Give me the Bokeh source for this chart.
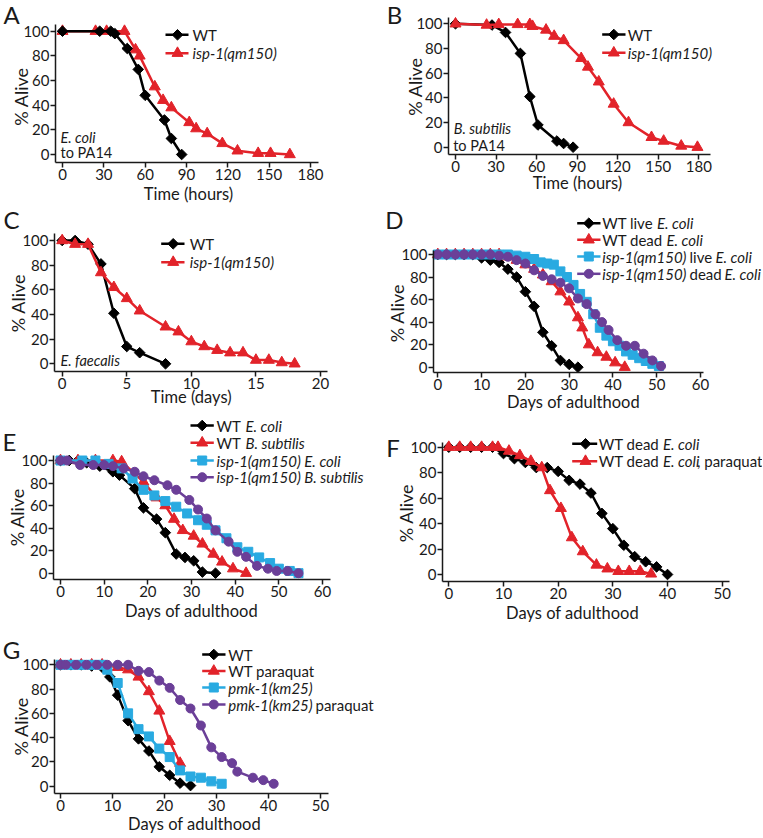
import math
from bokeh.plotting import figure
from bokeh.models import Range1d, FixedTicker, Label
from bokeh.layouts import row, column
from bokeh.embed import file_html
from bokeh.resources import INLINE

FONT = "Lato"
INK = "#1a1a1a"
BLACK = "#000000"
RED = "#E2232A"
CYAN = "#29AAE1"
PURPLE = "#6B3F98"

# ---------------- data ----------------
A_hours_wt = [0, 27, 35, 38, 47, 55, 60, 74, 79, 86.5]
A_wt = [100, 100, 100, 98, 86, 69, 48, 28, 13, 0]
A_hours_isp = [0, 24, 32, 45, 53, 56, 67, 73, 79, 92, 97, 105, 116, 127, 142, 151, 165]
A_isp = [100, 100, 100, 100, 85, 80, 55, 44, 38, 26, 21, 17, 9, 3, 1, 1, 0]

B_hours_wt = [0, 27, 37, 48, 55, 61, 75, 80, 87]
B_wt = [100, 99, 93, 76, 41, 18, 5, 3, 0]
B_hours_isp = [0, 23, 32, 46, 55, 57, 67, 73, 80, 93, 98, 106, 117, 128, 145, 154, 167, 179]
B_isp = [100, 99, 99.5, 99.5, 99.5, 98, 95, 90, 86.5, 72, 65, 53, 35, 20, 8, 5, 1, 0]

C_days_wt = [0, 1, 2, 3, 4, 5, 6, 8]
C_wt = [100, 100, 97, 81, 41, 14, 9, 0]
C_days_isp = [0, 1, 2, 3, 4, 5, 6, 8, 9, 10, 11, 12, 13, 14, 15, 16, 17, 18]
C_isp = [100, 97, 97, 74, 62, 53, 43, 30, 26, 18, 14, 11, 9, 9, 3, 3, 1, 0]

D_days_wt_live = [0, 2, 4, 6, 8, 10, 12, 14, 16, 18, 20, 22, 24, 26, 28, 30, 32]
D_wt_live = [100, 100, 100, 100, 100, 97, 95, 93, 87, 80, 67, 54, 31, 19, 6, 2.5, 0]
D_days_wt_dead = [0, 2, 4, 6, 8, 10, 12, 14, 16, 18, 20, 22, 24, 26, 28, 30, 32, 33, 34.5, 36.5, 38.5, 40.5, 42.7]
D_wt_dead = [100, 100, 100, 100, 100, 100, 100, 100, 98, 95, 91, 87, 82, 76, 67, 58, 44, 35, 20, 13, 9, 4, 0]
D_days_isp_live = [0, 2, 4, 6, 8, 10, 12, 14, 16, 18, 20, 22, 23.5, 25, 26.5, 28, 29.5, 31, 32.5, 34,
                   35.5, 37, 38.5, 40, 41.5, 43, 44.5, 46, 47.5, 49, 50.5]
D_isp_live = [100, 100, 100, 100, 100, 100, 100, 100, 100, 99, 98, 96, 93, 92, 91, 85, 80, 73, 65, 58,
              47, 35, 28, 23, 19, 14, 11, 8, 5.5, 3, 1]
D_days_isp_dead = [0, 2, 4, 6, 8, 10, 12, 14, 16, 18, 20, 22, 24, 26, 28, 30, 32, 34, 36, 37.5, 39, 41, 43, 45, 47, 49, 51]
D_isp_dead = [100, 100, 100, 100, 100, 100, 100, 99, 98, 95, 92, 86, 81, 78, 75, 70, 61, 56, 47, 40, 33, 24, 19, 19, 12, 6, 1]

E_days_wt_ecoli = [0, 2, 4, 6, 9, 12, 13.5, 17, 19, 22, 24, 26.5, 28.5, 30.5, 32.5, 35.5]
E_wt_ecoli = [100, 100, 100, 98, 95, 90, 87, 75, 58, 48, 36, 17, 14, 11, 1, 0]
E_days_wt_bsub = [0, 4, 8, 12, 14, 19, 22, 24, 26, 28, 30.5, 32.5, 35, 37, 39.5, 42.5]
E_wt_bsub = [100, 100, 100, 100, 99, 81, 67, 60, 48, 38, 33, 26, 17, 10, 4, 0]
E_days_isp_ecoli = [0, 5, 8, 11, 14, 16.5, 19, 21.5, 24, 26.5, 29, 31.5, 33.5, 35.5, 38, 40.5, 43, 45.5, 48, 50, 52.5, 54.5]
E_isp_ecoli = [100, 100, 100, 97, 93, 84, 74, 69, 64, 59, 53, 47, 43, 38, 31, 23, 19, 14, 9, 4, 2, 0]
E_days_isp_bsub = [0, 1.5, 4.5, 7.5, 10, 12, 14.5, 17, 19, 21.5, 24.5, 26.5, 29.5, 31.5, 33.5, 35.5, 38.5,
                   40.5, 42.5, 45, 47.5, 49.5, 52, 54.5]
E_isp_bsub = [100, 100, 96, 96, 96, 95, 93, 90, 86, 82.5, 78, 74, 65, 56.5, 48.5, 38, 28, 19, 14.5, 6.5, 4, 2, 2, 0]

F_days_wt = [0, 2, 4, 6, 8, 10, 12, 14, 16, 18, 20, 22, 24, 26, 28, 30, 32, 34, 36, 38, 40]
F_wt = [100, 100, 100, 100, 100, 95, 91, 88, 84, 84, 81, 74, 71, 64, 48, 36, 23, 14, 10, 6, 0]
F_days_pq = [0, 2, 4, 6, 8, 9, 11, 13, 15, 17, 18.5, 20.5, 22.5, 24.5, 27, 29, 31, 33, 35, 37]
F_pq = [100, 100, 100, 100, 100, 100, 97, 93.5, 89, 84, 66, 52, 29, 18, 7.5, 4.5, 2.5, 2.5, 2.5, 0.5]

G_days_wt = [0, 2, 4, 6, 8, 9.5, 11, 13, 15, 17, 19, 21, 23, 25]
G_wt = [100, 100, 100, 99, 98, 90, 75, 54, 39, 29, 16, 9, 2.5, 0.5]
G_days_wt_pq = [0, 2, 4, 6, 8, 11, 13, 15, 17, 19, 21, 23]
G_wt_pq = [100, 100, 100, 100, 100, 98, 96, 90, 78, 62, 37, 19]
G_days_pmk = [0, 2, 4, 6, 8, 9, 11, 13, 15, 17, 19, 21, 23, 25, 27, 29, 31]
G_pmk = [100, 100, 100, 100, 100, 96, 85, 60, 47, 41, 31, 24, 13, 8, 7, 4, 2]
G_days_pmk_pq = [0, 1, 3, 5, 7, 9, 11, 13, 15, 17, 19, 21, 23, 25, 27, 29, 31, 33, 34, 37, 39, 41]
G_pmk_pq = [100, 100, 100, 100, 100, 100, 100, 100, 95, 94, 87, 81, 71, 64, 50, 32, 24, 19, 12, 7, 5, 2]

Y_TICKS = [0, 20, 40, 60, 80, 100]
HOUR_TICKS = [0, 30, 60, 90, 120, 150, 180]
C_TICKS = [0, 5, 10, 15, 20]
ADULT60_TICKS = [0, 10, 20, 30, 40, 50, 60]
ADULT50_TICKS = [0, 10, 20, 30, 40, 50]

STYLE = {
    "wt": (BLACK, "square", 7.5, math.pi / 4),
    "tri": (RED, "triangle", 11, 0.0),
    "sq": (CYAN, "square", 9, 0.0),
    "circ": (PURPLE, "circle", 9, 0.0),
}


class Panel:
    """One survival panel. The frame fills the whole figure; pixel arguments are page pixels."""

    def __init__(self, ox, oy, w, h, axis_x, axis_y, xcal, ycal, x_end, y_top, xticks):
        px0, v0, px1, v1 = xcal
        py0, u0, py1, u1 = ycal
        self.ax = (v1 - v0) / (px1 - px0)
        self.ay = (u1 - u0) / (py1 - py0)
        self.xc = (px0, v0)
        self.yc = (py0, u0)
        p = figure(width=w, height=h,
                   x_range=Range1d(self.X(ox), self.X(ox + w)),
                   y_range=Range1d(self.Y(oy + h), self.Y(oy)),
                   output_backend="svg", toolbar_location=None,
                   min_border=0, min_border_left=0, min_border_right=0,
                   min_border_top=0, min_border_bottom=0)
        p.outline_line_color = None
        p.xgrid.visible = False
        p.ygrid.visible = False
        p.background_fill_color = "white"
        p.border_fill_color = "white"
        p.xaxis.ticker = FixedTicker(ticks=xticks)
        p.yaxis.ticker = FixedTicker(ticks=Y_TICKS)
        p.xaxis.fixed_location = self.Y(axis_y)
        p.yaxis.fixed_location = self.X(axis_x)
        p.xaxis.bounds = (self.X(axis_x), self.X(x_end))
        p.yaxis.bounds = (self.Y(axis_y), self.Y(y_top))
        for a in (p.xaxis[0], p.yaxis[0]):
            a.axis_line_width = 1.5
            a.axis_line_color = INK
            a.major_tick_line_width = 1.5
            a.major_tick_line_color = INK
            a.major_tick_out = 5
            a.major_tick_in = 0
            a.minor_tick_line_color = None
            a.major_label_text_font = FONT
            a.major_label_text_font_size = "15px"
            a.major_label_text_color = INK
            a.major_label_standoff = 1
        self.p = p

    def X(self, px):
        return self.xc[1] + (px - self.xc[0]) * self.ax

    def Y(self, py):
        return self.yc[1] + (py - self.yc[0]) * self.ay

    def series(self, xs, ys, key):
        color, marker, size, angle = STYLE[key]
        self.p.line(xs, ys, line_color=color, line_width=2.5)
        self.p.scatter(xs, ys, marker=marker, size=size, angle=angle,
                       fill_color=color, line_color=color)

    def text(self, px, py, s, size, style="normal", align="left", angle=0.0, baseline="middle"):
        self.p.add_layout(Label(x=self.X(px), y=self.Y(py), text=s, text_font=FONT,
                                text_font_size=f"{size}px", text_font_style=style,
                                text_align=align, text_baseline=baseline, angle=angle,
                                text_color=INK))

    def legend(self, rows_y, x0, x1, xm, entries, size=15):
        for y, (key, parts) in zip(rows_y, entries):
            color, marker, msize, angle = STYLE[key]
            self.p.line([self.X(x0), self.X(x1)], [self.Y(y), self.Y(y)], line_color=color, line_width=2.5)
            self.p.scatter([self.X(xm)], [self.Y(y)], marker=marker, size=msize, angle=angle,
                           fill_color=color, line_color=color)
            for tx, s, st in parts:
                self.text(tx, y, s, size, st)

    def letter(self, px, py, s):
        self.text(px, py, s, 24, align="center")

    def ylabel(self, px, py):
        self.text(px, py, "% Alive", 18, align="center", angle=math.pi / 2)

    def xlabel(self, px, py, s):
        self.text(px, py, s, 16.5, align="center")


# ---------------- panel A ----------------
A = Panel(0, 0, 380, 206, 55, 162, (62, 0, 310, 180), (30.7, 100, 154, 0), 318, 24, HOUR_TICKS)
A.series(A_hours_isp, A_isp, "tri")
A.series(A_hours_wt, A_wt, "wt")
A.legend([34.3, 52.7], 165, 188, 177,
         [("wt", [(192, "WT", "normal")]), ("tri", [(192, "isp-1(qm150)", "italic")])])
A.text(60, 136.7, "E. coli", 14.5, "italic")
A.text(60, 151.7, "to PA14", 14.5)
A.letter(11, 14, "A")
A.ylabel(20, 96)
A.xlabel(188, 193, "Time (hours)")

# ---------------- panel B ----------------
B = Panel(380, 0, 382, 206, 448, 154, (455, 0, 698.3, 180), (23.3, 100, 146.7, 0), 710, 16.7, HOUR_TICKS)
B.series(B_hours_wt, B_wt, "wt")
B.series(B_hours_isp, B_isp, "tri")
B.legend([34, 52.3], 601.7, 625, 613.3,
         [("wt", [(627.3, "WT", "normal")]), ("tri", [(627.3, "isp-1(qm150)", "italic")])])
B.text(453.3, 128.3, "B. subtilis", 14.5, "italic")
B.text(452.7, 145, "to PA14", 14.5)
B.letter(394, 14, "B")
B.ylabel(414.5, 86)
B.xlabel(577, 182, "Time (hours)")

# ---------------- panel C ----------------
C = Panel(0, 206, 380, 207, 54, 371, (61.7, 0, 320, 20), (240, 100, 363.3, 0), 326.7, 233.3, C_TICKS)
C.series(C_days_wt, C_wt, "wt")
C.series(C_days_isp, C_isp, "tri")
C.legend([243.3, 261.7], 160.7, 184, 172.7,
         [("wt", [(189.3, "WT", "normal")]), ("tri", [(189.3, "isp-1(qm150)", "italic")])])
C.text(60, 360, "E. faecalis", 14.5, "italic")
C.letter(11, 219, "C")
C.ylabel(17.5, 302.5)
C.xlabel(190.7, 396, "Time (days)")

# ---------------- panel D ----------------
D = Panel(380, 206, 382, 207, 433, 372, (437.3, 0, 700, 60), (254, 100, 366.7, 0), 703.3, 250, ADULT60_TICKS)
D.series(D_days_wt_live, D_wt_live, "wt")
D.series(D_days_wt_dead, D_wt_dead, "tri")
D.series(D_days_isp_live, D_isp_live, "sq")
D.series(D_days_isp_dead, D_isp_dead, "circ")
D.legend([222.7, 239.3, 256, 273.3], 576.7, 600, 588.3,
         [("wt", [(601.7, "WT live", "normal"), (656.5, "E. coli", "italic")]),
          ("tri", [(601.7, "WT dead", "normal"), (666, "E. coli", "italic")]),
          ("sq", [(601.7, "isp-1(qm150)", "italic"), (689, "live", "normal"), (715, "E. coli", "italic")]),
          ("circ", [(601.7, "isp-1(qm150)", "italic"), (689, "dead", "normal"), (724, "E. coli", "italic")])])
D.letter(394, 219, "D")
D.ylabel(396.5, 312.5)
D.xlabel(573, 401, "Days of adulthood")

# ---------------- panel E ----------------
E = Panel(0, 413, 380, 209, 53, 579, (60, 0, 322, 60), (460, 100, 572.7, 0), 330, 455, ADULT60_TICKS)
E.series(E_days_wt_ecoli, E_wt_ecoli, "wt")
E.series(E_days_wt_bsub, E_wt_bsub, "tri")
E.series(E_days_isp_ecoli, E_isp_ecoli, "sq")
E.series(E_days_isp_bsub, E_isp_bsub, "circ")
E.legend([425, 442.3, 460, 476.7], 190, 213.3, 201.7,
         [("wt", [(216, "WT", "normal"), (245, "E. coli", "italic")]),
          ("tri", [(216, "WT", "normal"), (245, "B. subtilis", "italic")]),
          ("sq", [(216, "isp-1(qm150) E. coli", "italic")]),
          ("circ", [(216, "isp-1(qm150) B. subtilis", "italic")])])
E.letter(9, 441, "E")
E.ylabel(16.5, 516.7)
E.xlabel(191, 610, "Days of adulthood")

# ---------------- panel F ----------------
F = Panel(380, 413, 382, 209, 442, 581, (448.3, 0, 721.7, 50), (446.7, 100, 574, 0), 729, 441.7, ADULT50_TICKS)
F.series(F_days_wt, F_wt, "wt")
F.series(F_days_pq, F_pq, "tri")
F.legend([443.3, 460.7], 571.7, 596.7, 585,
         [("wt", [(598.3, "WT dead", "normal"), (662.5, "E. coli", "italic")]),
          ("tri", [(598.3, "WT dead", "normal"), (662.5, "E. coli", "italic"), (696.5, ", paraquat", "normal")])])
F.letter(392.5, 446.5, "F")
F.ylabel(405, 512.5)
F.xlabel(572, 612, "Days of adulthood")

# ---------------- panel G ----------------
G = Panel(0, 622, 380, 214, 54, 793, (60, 0, 320, 50), (664.3, 100, 785.7, 0), 328, 659, ADULT50_TICKS)
G.series(G_days_wt, G_wt, "wt")
G.series(G_days_wt_pq, G_wt_pq, "tri")
G.series(G_days_pmk, G_pmk, "sq")
G.series(G_days_pmk_pq, G_pmk_pq, "circ")
G.legend([654, 670.5, 687, 704], 201.7, 225, 213.3,
         [("wt", [(227.7, "WT", "normal")]),
          ("tri", [(227.7, "WT paraquat", "normal")]),
          ("sq", [(227.7, "pmk-1(km25)", "italic")]),
          ("circ", [(227.7, "pmk-1(km25)", "italic"), (315, "paraquat", "normal")])])
G.letter(11, 648.5, "G")
G.ylabel(20, 725.8)
G.xlabel(194, 823, "Days of adulthood")

layout = column(row(A.p, B.p), row(C.p, D.p), row(E.p, F.p), G.p)

with open("out.html", "w") as f:
    f.write(file_html(layout, INLINE))
